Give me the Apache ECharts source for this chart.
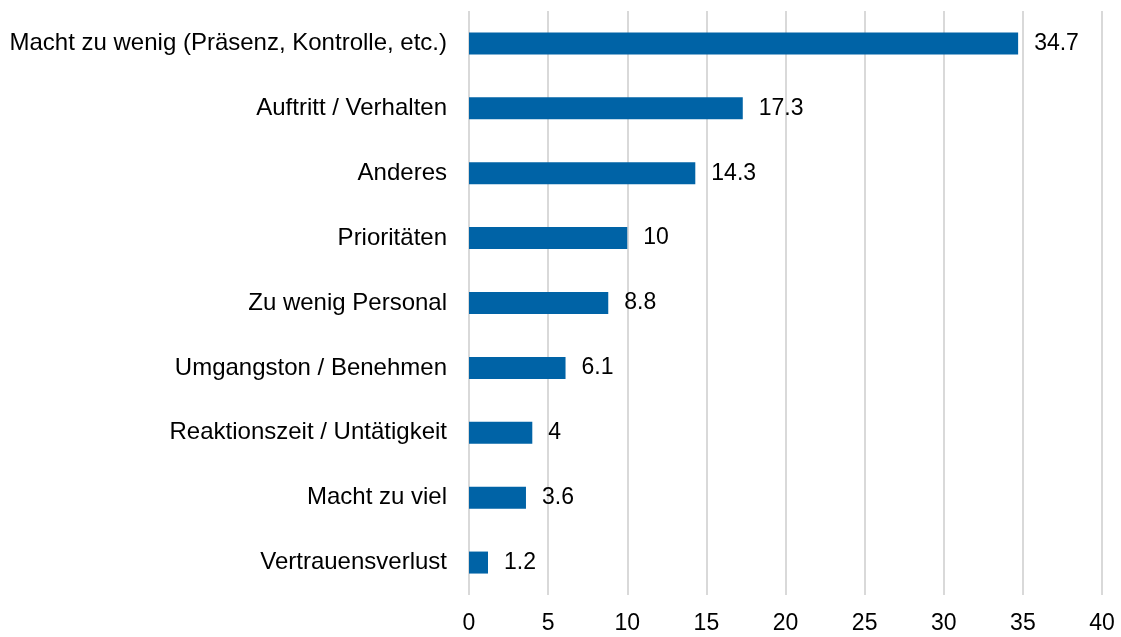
<!DOCTYPE html>
<html>
<head>
<meta charset="utf-8">
<script src="https://cdn.jsdelivr.net/npm/echarts@6/dist/echarts.min.js"></script>
<style>
  html, body { margin: 0; padding: 0; background: #fff; }
  #chart { width: 1121px; height: 637px; }
</style>
</head>
<body>
<div id="chart"></div>
<script>
// Kategorien von oben nach unten
var categories = [
  'Macht zu wenig (Präsenz, Kontrolle, etc.)',
  'Auftritt / Verhalten',
  'Anderes',
  'Prioritäten',
  'Zu wenig Personal',
  'Umgangston / Benehmen',
  'Reaktionszeit / Untätigkeit',
  'Macht zu viel',
  'Vertrauensverlust'
];
var values = [34.7, 17.3, 14.3, 10, 8.8, 6.1, 4, 3.6, 1.2];

var myChart = echarts.init(document.getElementById('chart'));
var option = {
  animation: false,
  grid: {
    left: 469,
    right: 19,
    top: 11,
    bottom: 42
  },
  xAxis: {
    type: 'value',
    min: 0,
    max: 40,
    interval: 5,
    axisLine: { show: false },
    axisTick: { show: false },
    axisLabel: {
      color: '#000',
      fontFamily: 'Liberation Sans',
      fontSize: 23,
      margin: 17
    },
    splitLine: { lineStyle: { color: '#d9d9d9', width: 2 } }
  },
  yAxis: {
    type: 'category',
    inverse: true,
    data: categories,
    axisLine: { show: false },
    axisTick: { show: false },
    axisLabel: {
      color: '#000',
      fontFamily: 'Liberation Sans',
      fontSize: 24,
      margin: 22
    }
  },
  series: [
    {
      type: 'bar',
      data: values,
      barWidth: 22,
      itemStyle: { color: '#0063a6' },
      label: {
        show: true,
        position: 'right',
        distance: 16,
        color: '#000',
        fontFamily: 'Liberation Sans',
        fontSize: 23
      }
    }
  ]
};
myChart.setOption(option);
</script>
</body>
</html>
